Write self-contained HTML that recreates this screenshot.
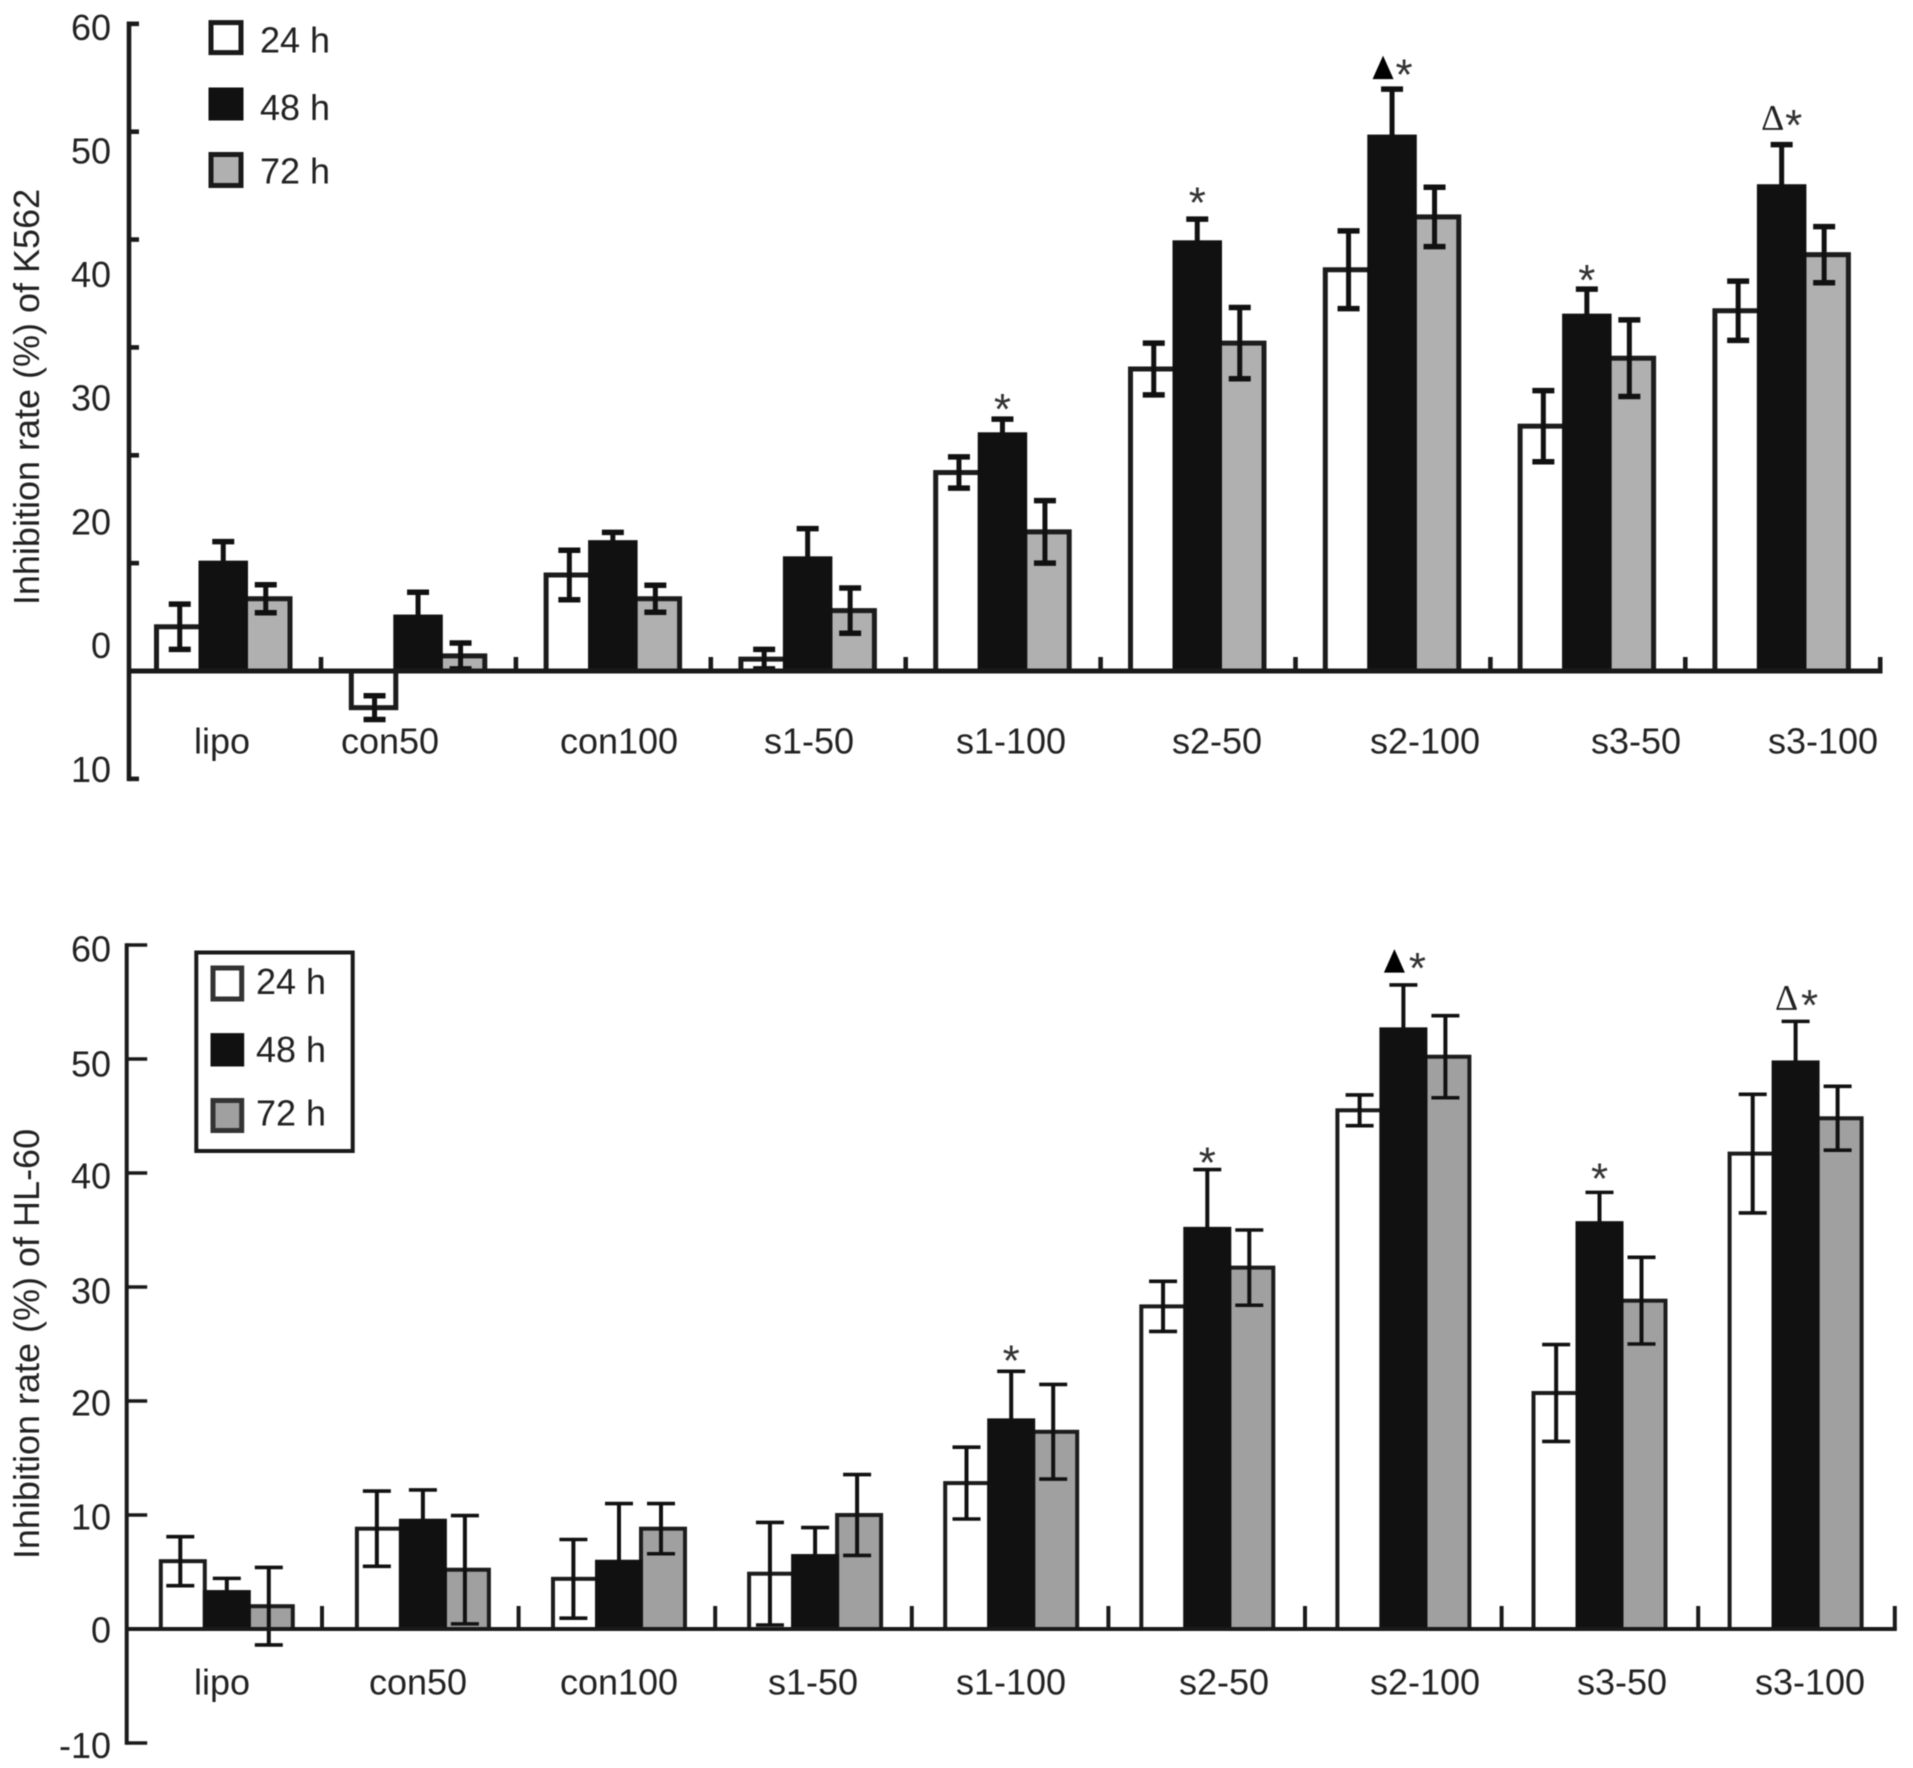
<!DOCTYPE html>
<html lang="en">
<head>
<meta charset="utf-8">
<title>Inhibition rate of K562 and HL-60</title>
<style>
html,body{margin:0;padding:0;background:#fff;}
svg{display:block;filter:blur(0.5px);}
text{font-family:"Liberation Sans",Arial,sans-serif;fill:#222;font-size:36px;}
.ylab{text-anchor:end;}
.xlab{text-anchor:middle;}
.star{font-size:44px;text-anchor:middle;fill:#333;}
.delta{font-family:"Liberation Serif",serif;font-size:36px;text-anchor:middle;fill:#222;}
</style>
</head>
<body>
<svg id="figure" width="1913" height="1768" viewBox="0 0 1913 1768" xmlns="http://www.w3.org/2000/svg">
  <rect x="0" y="0" width="1913" height="1768" fill="#fff"/>

  <g id="k562-chart"></g>
  <g id="hl60-chart"></g>

  <!-- K562 text -->
  <g>
    <text class="ylab" x="111" y="39.8">60</text>
    <text class="ylab" x="111" y="163.3">50</text>
    <text class="ylab" x="111" y="287.2">40</text>
    <text class="ylab" x="111" y="410.7">30</text>
    <text class="ylab" x="111" y="534.7">20</text>
    <text class="ylab" x="111" y="658.2">0</text>
    <text class="ylab" x="111" y="782">10</text>
  </g>
  <text text-anchor="middle" style="font-size:36px" transform="translate(38.8,397) rotate(-90)">Inhibition rate (%) of K562</text>
  <g>
    <text class="xlab" x="222" y="753.6">lipo</text>
    <text class="xlab" x="390" y="753.6">con50</text>
    <text class="xlab" x="619" y="753.6">con100</text>
    <text class="xlab" x="809" y="753.6">s1-50</text>
    <text class="xlab" x="1011" y="753.6">s1-100</text>
    <text class="xlab" x="1217" y="753.6">s2-50</text>
    <text class="xlab" x="1425" y="753.6">s2-100</text>
    <text class="xlab" x="1636" y="753.6">s3-50</text>
    <text class="xlab" x="1823" y="753.6">s3-100</text>
  </g>
  <g>
    <rect x="211" y="22.6" width="30" height="30" fill="#fff" stroke="#1a1a1a" stroke-width="5"/>
    <text x="260" y="52.5">24 h</text>
    <rect x="211" y="90" width="30" height="28" fill="#111" stroke="#111" stroke-width="5"/>
    <text x="260" y="120">48 h</text>
    <rect x="211" y="154.5" width="30" height="31" fill="#b0b0b0" stroke="#1a1a1a" stroke-width="5"/>
    <text x="260" y="183.7">72 h</text>
  </g>

  <!-- HL-60 text -->
  <g>
    <text class="ylab" x="111" y="961.6">60</text>
    <text class="ylab" x="111" y="1076.3">50</text>
    <text class="ylab" x="111" y="1188.3">40</text>
    <text class="ylab" x="111" y="1303.5">30</text>
    <text class="ylab" x="111" y="1415.4">20</text>
    <text class="ylab" x="111" y="1529.5">10</text>
    <text class="ylab" x="111" y="1642.5">0</text>
    <text class="ylab" x="111" y="1757.8">-10</text>
  </g>
  <text text-anchor="middle" style="font-size:36px" transform="translate(38.8,1344) rotate(-90)">Inhibition rate (%) of HL-60</text>
  <g>
    <text class="xlab" x="222" y="1694.5">lipo</text>
    <text class="xlab" x="418" y="1694.5">con50</text>
    <text class="xlab" x="619" y="1694.5">con100</text>
    <text class="xlab" x="813" y="1694.5">s1-50</text>
    <text class="xlab" x="1011" y="1694.5">s1-100</text>
    <text class="xlab" x="1224" y="1694.5">s2-50</text>
    <text class="xlab" x="1425" y="1694.5">s2-100</text>
    <text class="xlab" x="1622" y="1694.5">s3-50</text>
    <text class="xlab" x="1810" y="1694.5">s3-100</text>
  </g>
  <g>
    <rect x="196.3" y="952.5" width="156.4" height="198.5" fill="#fff" stroke="#1a1a1a" stroke-width="4"/>
    <rect x="213" y="968" width="28.7" height="31" fill="#fff" stroke="#333" stroke-width="5"/>
    <text x="256" y="994">24 h</text>
    <rect x="213" y="1035.6" width="28.7" height="28.4" fill="#111" stroke="#111" stroke-width="5"/>
    <text x="256" y="1062.2">48 h</text>
    <rect x="213" y="1100.5" width="28.7" height="30" fill="#a0a0a0" stroke="#333" stroke-width="5"/>
    <text x="256" y="1125.5">72 h</text>
  </g>
</svg>

<script>
// Shared categories
var categories = ["lipo", "con50", "con100", "s1-50", "s1-100", "s2-50", "s2-100", "s3-50", "s3-100"];
var seriesNames = ["24h", "48h", "72h"];

// K562 values (%)
var k562Values24h = [4.1, -3.4, 8.9, 1.1, 18.4, 28.0, 37.2, 22.7, 33.4];
var k562Values48h = [10.0, 5.0, 11.9, 10.4, 21.9, 39.7, 49.5, 32.9, 44.9];
var k562Values72h = [6.7, 1.4, 6.7, 5.6, 12.9, 30.4, 42.1, 29.0, 38.6];
var k562Errors24h = [2.1, 1.1, 2.3, 0.9, 1.45, 2.4, 3.6, 3.3, 2.75];
var k562Errors48h = [2.0, 2.3, 0.95, 2.8, 1.45, 2.2, 4.45, 2.5, 3.9];
var k562Errors72h = [1.3, 1.2, 1.25, 2.1, 2.9, 3.3, 2.75, 3.55, 2.6];
var k562AxisTicks = [60, 50, 40, 30, 20, 10, 0, -10];

// HL-60 values (%)
var hl60Values24h = [5.95, 8.8, 4.4, 4.85, 12.8, 28.3, 45.5, 20.7, 41.7];
var hl60Values48h = [3.24, 9.5, 5.9, 6.4, 18.3, 35.1, 52.6, 35.6, 49.7];
var hl60Values72h = [2.0, 5.2, 8.8, 10.0, 17.3, 31.7, 50.2, 28.8, 44.8];
var hl60Errors24h = [2.15, 3.3, 3.45, 4.5, 3.15, 2.2, 1.35, 4.25, 5.2];
var hl60Errors48h = [1.2, 2.7, 5.1, 2.5, 4.3, 5.2, 3.9, 2.7, 3.6];
var hl60Errors72h = [3.4, 4.75, 2.2, 3.55, 4.15, 3.3, 3.6, 3.8, 2.8];
var hl60AxisTicks = [60, 50, 40, 30, 20, 10, 0, -10];

// Significance annotations on the 48 h bars (category index, marker type, lift above the error cap in axis units)
var annotationCategories = [4, 5, 6, 7, 8];
var annotationMarkers = ["star", "star", "filled", "star", "open"];
var k562AnnotationLift = [1.5, 2.1, 1.9, 1.4, 2.4];
var hl60AnnotationLift = [1.5, 1.15, 2.0, 1.75, 1.95];

var NS = "http://www.w3.org/2000/svg";

function makeLine(parent, x1, y1, x2, y2, color, width) {
  var el = document.createElementNS(NS, "line");
  el.setAttribute("x1", x1);
  el.setAttribute("y1", y1);
  el.setAttribute("x2", x2);
  el.setAttribute("y2", y2);
  el.setAttribute("stroke", color);
  el.setAttribute("stroke-width", width);
  parent.appendChild(el);
  return el;
}

function drawChart(chart) {
  var root = document.getElementById(chart.id);
  var p = chart.prefix;
  function yScale(v) { return chart.zeroY - v * chart.unit; }
  function groupX(i) { return chart.groupStart + i * chart.groupPitch; }
  function barX(i, s) { return groupX(i) + s * chart.barWidth; }
  function tickX(i) { return chart.tickStart + i * chart.tickPitch; }
  function errX(i, s) {
    var drift = s === 0 ? chart.whiteDrift * i : 0;
    return barX(i, s) + chart.barWidth / 2 + chart.errShift[s] + drift;
  }

  var drawOrder = [0, 2, 1];
  var fills = ["#ffffff", "#111111", chart.gray];
  var barsG = document.createElementNS(NS, "g");
  
  
  root.appendChild(barsG);

  drawOrder.forEach(function (s) {
    categories.forEach(function (cat, i) {
      var v = chart.values[s][i];
      var top = Math.min(yScale(v), yScale(0));
      var h = Math.abs(yScale(v) - yScale(0));
      var bar = document.createElementNS(NS, "rect");
      
      
      bar.setAttribute("x", barX(i, s));
      bar.setAttribute("y", top);
      bar.setAttribute("width", chart.barWidth);
      bar.setAttribute("height", h);
      bar.setAttribute("fill", fills[s]);
      bar.setAttribute("stroke", s === 1 ? "#111111" : "#1c1c1c");
      bar.setAttribute("stroke-width", chart.barStroke);
      barsG.appendChild(bar);
    });
  });

  var errG = document.createElementNS(NS, "g");
  
  
  root.appendChild(errG);

  seriesNames.forEach(function (sName, s) {
    categories.forEach(function (cat, i) {
      var v = chart.values[s][i];
      var e = chart.errors[s][i];
      var x = errX(i, s);
      var g = document.createElementNS(NS, "g");
      
      
      makeLine(g, x, yScale(v + e), x, yScale(v - e), "#111111", chart.errStroke);
      makeLine(g, x - chart.capHalf, yScale(v + e), x + chart.capHalf, yScale(v + e), "#111111", chart.capStroke);
      makeLine(g, x - chart.capHalf, yScale(v - e), x + chart.capHalf, yScale(v - e), "#111111", chart.capStroke);
      errG.appendChild(g);
    });
  });

  // Axes
  var axisG = document.createElementNS(NS, "g");
  
  
  root.appendChild(axisG);

  var yAxis = makeLine(axisG, chart.axisX, yScale(chart.ticks[0]) - chart.yTickStroke / 2, chart.axisX, yScale(chart.ticks[chart.ticks.length - 1]) + chart.yTickStroke / 2, "#1a1a1a", chart.axisStroke);
  
  

  chart.ticks.forEach(function (t) {
    var tick = makeLine(axisG, chart.axisX, yScale(t), chart.axisX + chart.yTickLen, yScale(t), "#1a1a1a", chart.yTickStroke);
    
    
  });

  var xAxis = makeLine(axisG, chart.axisX, yScale(0), tickX(categories.length) + chart.axisStroke / 2, yScale(0), "#1a1a1a", chart.baselineStroke);
  
  

  for (var k = 1; k <= categories.length; k++) {
    var xt = makeLine(axisG, tickX(k), yScale(0), tickX(k), yScale(0) - chart.xTickLen, "#1a1a1a", chart.axisStroke);
    
    
  }

  // Annotations above the 48 h bars
  var annG = document.createElementNS(NS, "g");
  
  
  root.appendChild(annG);

  annotationCategories.forEach(function (i, idx) {
    var level = chart.values[1][i] + chart.errors[1][i] + chart.lift[idx];
    var cy = yScale(level);
    var cx = barX(i, 1) + chart.barWidth / 2;
    var kind = annotationMarkers[idx];
    var starX = kind === "star" ? cx : cx + chart.starShift;
    var star = document.createElementNS(NS, "text");
    
    
    star.setAttribute("class", "star");
    star.setAttribute("x", starX);
    star.setAttribute("y", cy + 21);
    star.textContent = "*";
    annG.appendChild(star);
    if (kind === "filled") {
      var tri = document.createElementNS(NS, "polygon");
      
      
      var tx = cx - 9;
      tri.setAttribute("points", (tx - 10.5) + "," + (cy + 10.5) + " " + (tx + 10.5) + "," + (cy + 10.5) + " " + tx + "," + (cy - 13));
      tri.setAttribute("fill", "#000");
      annG.appendChild(tri);
    }
    if (kind === "open") {
      var delta = document.createElementNS(NS, "text");
      
      
      delta.setAttribute("class", "delta");
      delta.setAttribute("x", cx - 9);
      delta.setAttribute("y", cy + 10.5);
      delta.textContent = "\u0394";
      annG.appendChild(delta);
    }
  });
}

drawChart({
  id: "k562-chart",
  prefix: "k562",
  values: [k562Values24h, k562Values48h, k562Values72h],
  errors: [k562Errors24h, k562Errors48h, k562Errors72h],
  ticks: k562AxisTicks,
  lift: k562AnnotationLift,
  zeroY: 671,
  unit: 10.786,
  groupStart: 156.5,
  groupPitch: 194.8,
  barWidth: 44.5,
  barStroke: 5,
  gray: "#b0b0b0",
  errShift: [1, 0, -2],
  whiteDrift: 0,
  errStroke: 5,
  capStroke: 5.5,
  capHalf: 11,
  axisX: 129,
  axisStroke: 4.6,
  baselineStroke: 5,
  yTickLen: 10,
  yTickStroke: 4.6,
  tickStart: 126.1,
  tickPitch: 194.9,
  xTickLen: 14,
  starShift: 12
});

drawChart({
  id: "hl60-chart",
  prefix: "hl60",
  values: [hl60Values24h, hl60Values48h, hl60Values72h],
  errors: [hl60Errors24h, hl60Errors48h, hl60Errors72h],
  ticks: hl60AxisTicks,
  lift: hl60AnnotationLift,
  zeroY: 1629,
  unit: 11.4,
  groupStart: 160.8,
  groupPitch: 196.1,
  barWidth: 44,
  barStroke: 4,
  gray: "#a0a0a0",
  errShift: [-2.5, 0, -2],
  whiteDrift: 0.45,
  errStroke: 4,
  capStroke: 3.6,
  capHalf: 14,
  axisX: 126.7,
  axisStroke: 4,
  baselineStroke: 4,
  yTickLen: 20.5,
  yTickStroke: 3.6,
  tickStart: 125.4,
  tickPitch: 196.6,
  xTickLen: 23,
  starShift: 14
});
</script>
</body>
</html>
